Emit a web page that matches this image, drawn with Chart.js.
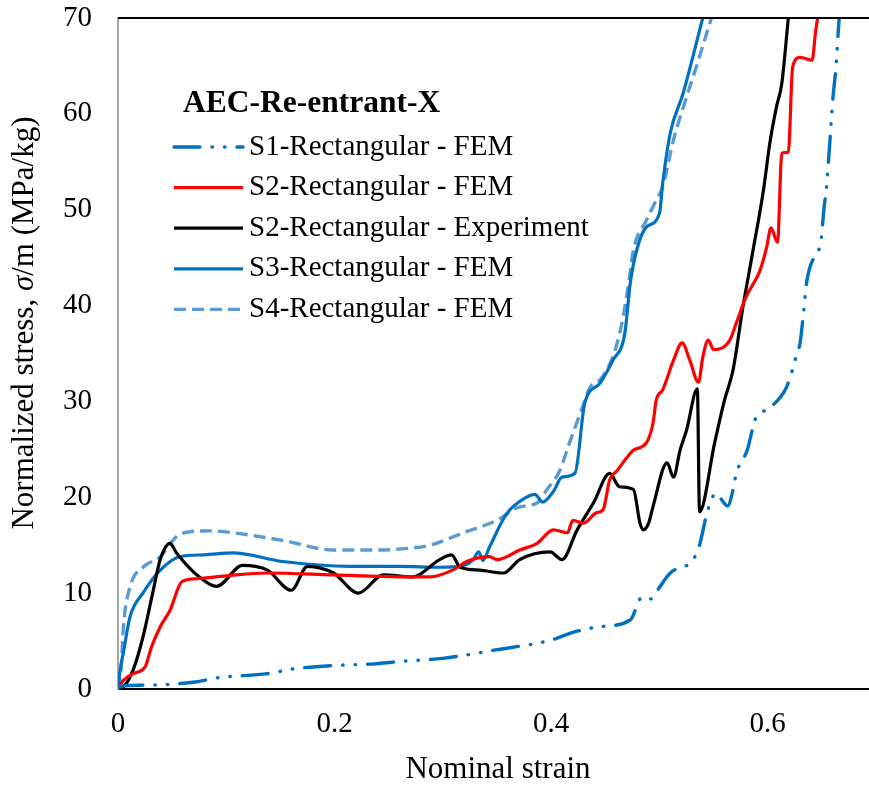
<!DOCTYPE html>
<html>
<head>
<meta charset="utf-8">
<script src="https://cdn.jsdelivr.net/npm/chart.js@4.4.1/dist/chart.umd.min.js"></script>
<style>
  html, body { margin: 0; padding: 0; background: #ffffff; }
  canvas { display: block; }
</style>
</head>
<body>
<canvas id="c" width="869" height="785" style="width:869px;height:785px"></canvas>
<script>
// ---------- DATA ----------
const legendTitle = "AEC-Re-entrant-X";
const seriesNames = [
  "S1-Rectangular - FEM",
  "S2-Rectangular - FEM",
  "S2-Rectangular - Experiment",
  "S3-Rectangular - FEM",
  "S4-Rectangular - FEM"
];
const xTicks = [0, 0.2, 0.4, 0.6];
const yTicks = [0, 10, 20, 30, 40, 50, 60, 70];
const xTitle = "Nominal strain";

// S1-Rectangular - FEM
const s1Strain = [0, 0.003, 0.023, 0.069, 0.094, 0.138, 0.162, 0.208, 0.233, 0.263, 0.3, 0.35, 0.4, 0.42, 0.445, 0.473, 0.484, 0.492, 0.5, 0.51, 0.531, 0.537, 0.544, 0.552, 0.557, 0.563, 0.568, 0.571, 0.581, 0.589, 0.6, 0.617, 0.622, 0.626, 0.63, 0.633, 0.636, 0.639, 0.645, 0.649, 0.652, 0.654, 0.657, 0.66, 0.663, 0.665, 0.666];
const s1Stress = [0, 0.3, 0.4, 0.7, 1.2, 1.6, 2.1, 2.5, 2.6, 2.9, 3.2, 4.1, 5.1, 5.9, 6.5, 7.2, 9.6, 9.4, 10.6, 12.1, 13.5, 15, 18.4, 20.4, 19.8, 19.1, 20.8, 22.5, 24.9, 28.3, 29.2, 31.4, 33, 34.6, 36.2, 39.2, 42.5, 44, 45.5, 46.6, 50.2, 52.1, 56.5, 61.4, 64.9, 68.4, 70];

// S2-Rectangular - FEM
const s2Strain = [0, 0.005, 0.014, 0.025, 0.031, 0.039, 0.048, 0.059, 0.073, 0.1, 0.138, 0.199, 0.26, 0.288, 0.309, 0.322, 0.343, 0.35, 0.371, 0.387, 0.402, 0.415, 0.42, 0.43, 0.442, 0.448, 0.454, 0.461, 0.476, 0.488, 0.494, 0.497, 0.503, 0.513, 0.521, 0.528, 0.536, 0.54, 0.545, 0.55, 0.565, 0.571, 0.58, 0.593, 0.599, 0.603, 0.609, 0.613, 0.619, 0.623, 0.63, 0.641, 0.644, 0.646];
const s2Stress = [0, 0.9, 1.6, 2.3, 4.4, 6.5, 8.2, 11.2, 11.5, 11.8, 12.1, 11.9, 11.7, 11.7, 12.4, 13.3, 13.8, 13.5, 14.5, 15.2, 16.6, 16.3, 17.6, 17.3, 18.4, 18.7, 21.8, 22.8, 24.9, 25.7, 27.7, 30.1, 31.2, 34.3, 36.1, 34.3, 32, 34.6, 36.4, 35.4, 36.4, 38.2, 40.9, 43.7, 46.1, 48.1, 46.6, 55.9, 56, 64.9, 65.9, 65.6, 68.4, 70];

// S2-Rectangular - Experiment
const expStrain = [0, 0.005, 0.014, 0.023, 0.032, 0.039, 0.048, 0.054, 0.076, 0.091, 0.115, 0.138, 0.16, 0.175, 0.199, 0.222, 0.245, 0.272, 0.297, 0.308, 0.316, 0.334, 0.356, 0.371, 0.399, 0.41, 0.424, 0.439, 0.454, 0.463, 0.476, 0.482, 0.485, 0.49, 0.494, 0.507, 0.513, 0.519, 0.525, 0.535, 0.537, 0.551, 0.56, 0.568, 0.577, 0.586, 0.596, 0.602, 0.608, 0.613, 0.619];
const expStress = [0, 0.2, 2, 5.4, 10, 13.5, 15.2, 14.2, 11.6, 10.7, 12.9, 12.4, 10.3, 12.8, 12.1, 10, 11.9, 11.7, 13.5, 14, 12.7, 12.4, 12.1, 13.5, 14.3, 13.5, 16.6, 19.4, 22.5, 21.1, 20.8, 17.3, 16.6, 17.3, 19, 23.6, 22.1, 24.9, 27, 31.3, 18.5, 25.7, 30.1, 33.3, 39.8, 45.5, 52, 57, 60.7, 63.2, 70];

// S3-Rectangular - FEM
const s3Strain = [0, 0.002, 0.005, 0.011, 0.023, 0.039, 0.057, 0.08, 0.106, 0.152, 0.214, 0.26, 0.297, 0.319, 0.328, 0.333, 0.337, 0.343, 0.359, 0.377, 0.385, 0.392, 0.402, 0.41, 0.422, 0.431, 0.445, 0.457, 0.468, 0.473, 0.479, 0.488, 0.5, 0.503, 0.51, 0.522, 0.54];
const s3Stress = [0, 2, 3.8, 7.5, 10, 12.4, 13.8, 14, 14.2, 13.3, 12.8, 12.8, 12.7, 12.9, 13.5, 14.3, 13.4, 14.8, 18.3, 20, 20.3, 19.5, 20.6, 22.1, 22.5, 29.8, 31.9, 34.3, 37.1, 42.3, 45.8, 48.2, 49.6, 52.8, 58, 62.2, 70];

// S4-Rectangular - FEM
const s4Strain = [0, 0.003, 0.005, 0.011, 0.023, 0.039, 0.054, 0.066, 0.085, 0.106, 0.152, 0.199, 0.242, 0.26, 0.288, 0.319, 0.35, 0.371, 0.387, 0.396, 0.408, 0.417, 0.427, 0.436, 0.445, 0.458, 0.465, 0.471, 0.476, 0.488, 0.497, 0.503, 0.513, 0.522, 0.534, 0.548];
const s4Stress = [0, 2.3, 6.5, 10.6, 12.7, 13.8, 15.9, 16.4, 16.5, 16.3, 15.5, 14.5, 14.5, 14.6, 15, 16.3, 17.6, 19, 19.4, 20.8, 22.8, 25.7, 28.8, 31.5, 32.2, 35, 38, 41.9, 45.8, 48.9, 51, 52.4, 57.3, 60.7, 64.9, 70];

// ---------- build ----------
function pts(xs, ys) { return xs.map((x, i) => ({ x: x, y: ys[i] })); }

const SERIF = "'Liberation Serif', 'Times New Roman', serif";
const styles = [
  { color: '#0070C0', dash: [26, 12, 0.5, 12, 0.5, 12], cap: 'round', width: 3.4 },
  { color: '#FF0000', dash: [], cap: 'butt', width: 3.2 },
  { color: '#000000', dash: [], cap: 'butt', width: 3.2 },
  { color: '#0070C0', dash: [], cap: 'butt', width: 3.2 },
  { color: '#5B9BD5', dash: [12, 6], cap: 'butt', width: 3.4 }
];
const seriesData = [
  pts(s1Strain, s1Stress),
  pts(s2Strain, s2Stress),
  pts(expStrain, expStress),
  pts(s3Strain, s3Stress),
  pts(s4Strain, s4Stress)
];

const datasets = seriesData.map((d, i) => ({
  label: seriesNames[i],
  data: d,
  showLine: true,
  borderColor: styles[i].color,
  backgroundColor: styles[i].color,
  borderWidth: styles[i].width,
  borderDash: styles[i].dash,
  borderCapStyle: styles[i].cap,
  borderJoinStyle: 'round',
  pointRadius: 0,
  pointHoverRadius: 0,
  fill: false,
  cubicInterpolationMode: 'monotone'
}));

const decorPlugin = {
  id: 'decor',
  afterDraw(chart) {
    const ctx = chart.ctx;
    const ca = chart.chartArea;
    ctx.save();
    // top frame line
    ctx.strokeStyle = '#000000';
    ctx.lineWidth = 2;
    ctx.beginPath();
    ctx.moveTo(ca.left, ca.top);
    ctx.lineTo(chart.width, ca.top);
    ctx.stroke();

    // legend title
    ctx.fillStyle = '#000000';
    ctx.font = 'bold 31.5px ' + SERIF;
    ctx.textAlign = 'left';
    ctx.textBaseline = 'alphabetic';
    ctx.fillText(legendTitle, 183, 112);

    // legend entries
    ctx.font = '29px ' + SERIF;
    ctx.textBaseline = 'middle';
    chart.data.datasets.forEach((ds, i) => {
      const y = 147 + i * 40.6;
      ctx.save();
      ctx.strokeStyle = ds.borderColor;
      ctx.lineWidth = ds.borderWidth;
      ctx.setLineDash(ds.borderDash);
      ctx.lineCap = ds.borderCapStyle;
      ctx.beginPath();
      ctx.moveTo(174, y);
      ctx.lineTo(243, y);
      ctx.stroke();
      ctx.restore();
      ctx.fillStyle = '#000000';
      ctx.fillText(ds.label, 249, y);
    });

    // x axis title
    ctx.font = '31px ' + SERIF;
    ctx.textAlign = 'center';
    ctx.textBaseline = 'alphabetic';
    ctx.fillText(xTitle, 498, 778);

    // y axis title with italic sigma
    const parts = [
      { t: 'Normalized stress, ', f: '31px ' + SERIF },
      { t: '\u03C3', f: 'italic 31px ' + SERIF },
      { t: '/m (MPa/kg)', f: '31px ' + SERIF }
    ];
    let total = 0;
    parts.forEach(p => { ctx.font = p.f; p.w = ctx.measureText(p.t).width; total += p.w; });
    ctx.translate(33, 323 + total / 2);
    ctx.rotate(-Math.PI / 2);
    ctx.textAlign = 'left';
    let xx = 0;
    parts.forEach(p => { ctx.font = p.f; ctx.fillText(p.t, xx, 0); xx += p.w; });
    ctx.restore();
  }
};

new Chart(document.getElementById('c'), {
  type: 'scatter',
  data: { datasets: datasets },
  options: {
    responsive: false,
    animation: false,
    devicePixelRatio: 1,
    layout: { padding: { top: 18, right: 0, bottom: 0, left: 0 } },
    plugins: { legend: { display: false }, tooltip: { enabled: false } },
    scales: {
      x: {
        type: 'linear',
        min: 0,
        max: 0.6935,
        afterBuildTicks: (s) => { s.ticks = xTicks.map(v => ({ value: v })); },
        afterFit: (s) => { s.height = 96; s.paddingLeft = 0; s.paddingRight = 0; },
        grid: { display: false, drawTicks: false },
        border: { display: true, color: '#000000', width: 2 },
        ticks: {
          padding: 18,
          color: '#000000',
          font: { family: SERIF, size: 29 },
          callback: (v) => String(v)
        }
      },
      y: {
        type: 'linear',
        min: 0,
        max: 70,
        afterBuildTicks: (s) => { s.ticks = yTicks.map(v => ({ value: v })); },
        afterFit: (s) => { s.width = 118; s.paddingTop = 0; s.paddingBottom = 0; },
        grid: { display: false, drawTicks: false },
        border: { display: true, color: '#A6A6A6', width: 2 },
        ticks: {
          padding: 26,
          color: '#000000',
          font: { family: SERIF, size: 29 },
          callback: (v) => String(v)
        }
      }
    }
  },
  plugins: [decorPlugin]
});
</script>
</body>
</html>
